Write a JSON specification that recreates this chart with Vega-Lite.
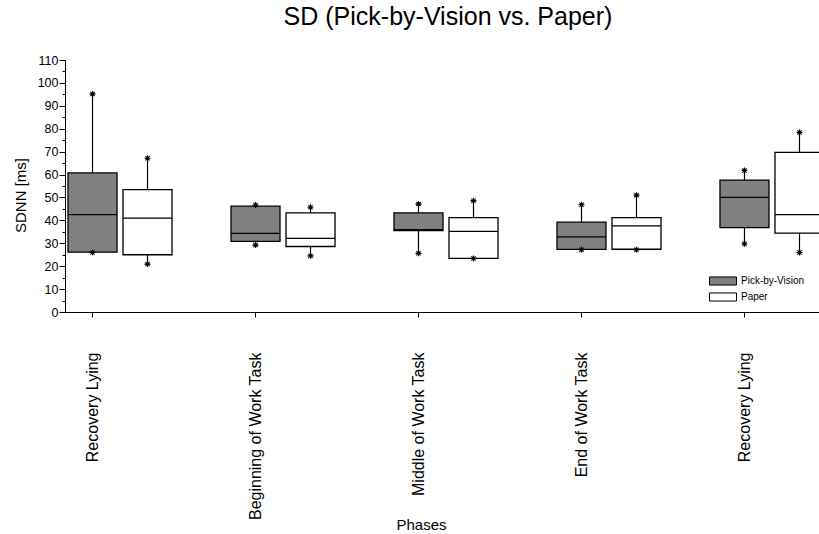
{
  "$schema": "https://vega.github.io/schema/vega-lite/v6.json",
  "width": 754,
  "height": 252,
  "autosize": {"type": "none"},
  "padding": {"left": 65, "top": 60, "right": 0, "bottom": 222},
  "background": "white",
  "config": {
    "font": "Liberation Sans",
    "view": {"stroke": null},
    "axis": {"grid": false, "domainColor": "black", "tickColor": "black", "labelColor": "black", "titleColor": "black", "titleFontWeight": "normal", "domainWidth": 1, "tickWidth": 1}
  },
  "title": {"text": "SD (Pick-by-Vision vs. Paper)", "fontSize": 25, "fontWeight": "normal", "color": "black", "anchor": "middle", "baseline": "alphabetic", "offset": 4, "dx": 6},
  "data": {
    "values": [
      {"phase": "Recovery Lying (1)", "group": "Pick-by-Vision", "min": 26.0, "q1": 26.1, "median": 42.5, "q3": 60.7, "max": 95.2},
      {"phase": "Recovery Lying (1)", "group": "Paper", "min": 20.9, "q1": 25.0, "median": 41.0, "q3": 53.4, "max": 67.1},
      {"phase": "Beginning of Work Task", "group": "Pick-by-Vision", "min": 29.2, "q1": 30.8, "median": 34.3, "q3": 46.2, "max": 46.7},
      {"phase": "Beginning of Work Task", "group": "Paper", "min": 24.5, "q1": 28.6, "median": 32.1, "q3": 43.3, "max": 45.7},
      {"phase": "Middle of Work Task", "group": "Pick-by-Vision", "min": 25.6, "q1": 35.5, "median": 36.0, "q3": 43.3, "max": 47.1},
      {"phase": "Middle of Work Task", "group": "Paper", "min": 23.4, "q1": 23.4, "median": 35.2, "q3": 41.2, "max": 48.6},
      {"phase": "End of Work Task", "group": "Pick-by-Vision", "min": 27.2, "q1": 27.3, "median": 32.8, "q3": 39.2, "max": 46.8},
      {"phase": "End of Work Task", "group": "Paper", "min": 27.2, "q1": 27.4, "median": 37.6, "q3": 41.2, "max": 51.0},
      {"phase": "Recovery Lying (2)", "group": "Pick-by-Vision", "min": 29.8, "q1": 36.8, "median": 50.0, "q3": 57.6, "max": 61.8},
      {"phase": "Recovery Lying (2)", "group": "Paper", "min": 26.0, "q1": 34.4, "median": 42.5, "q3": 69.7, "max": 78.4}
    ]
  },
  "encoding": {
    "x": {
      "field": "phase",
      "type": "nominal",
      "sort": ["Recovery Lying (1)", "Beginning of Work Task", "Middle of Work Task", "End of Work Task", "Recovery Lying (2)"],
      "scale": {"range": [0, 762], "paddingInner": 0.325, "paddingOuter": 0},
      "axis": {
        "bandPosition": 0.25,
        "tickSize": 5,
        "labelAngle": 270,
        "labelAlign": "right",
        "labelBaseline": "middle",
        "labelPadding": 35,
        "labelOffset": -27,
        "labelFontSize": 16,
        "labelExpr": "indexof(datum.value, 'Recovery') === 0 ? 'Recovery Lying' : datum.value",
        "title": "Phases",
        "titleFontSize": 15,
        "titleX": 356,
        "titleY": 217,
        "titleAlign": "center",
        "titleBaseline": "alphabetic",
        "titleAnchor": null
      }
    },
    "xOffset": {
      "field": "group",
      "type": "nominal",
      "sort": ["Pick-by-Vision", "Paper"],
      "scale": {"paddingInner": 0.109, "paddingOuter": 0.0545}
    }
  },
  "layer": [
    {
      "mark": {"type": "rule", "clip": true, "stroke": "black", "strokeWidth": 1.2},
      "encoding": {
        "y": {
          "field": "min",
          "type": "quantitative",
          "scale": {"domain": [0, 110], "nice": false, "zero": true},
          "axis": {"title": "SDNN [ms]", "titleFontSize": 15, "titleX": -45, "titleY": 135, "titleAngle": 270, "titleAlign": "center", "titleBaseline": "middle", "values": [0, 5, 10, 15, 20, 25, 30, 35, 40, 45, 50, 55, 60, 65, 70, 75, 80, 85, 90, 95, 100, 105, 110], "labelExpr": "datum.value % 10 === 0 ? datum.label : ''", "tickSize": {"condition": {"test": "datum.value % 10 === 0", "value": 6}, "value": 3}, "labelPadding": 1, "labelFontSize": 12.5, "labelFlush": false, "labelOverlap": false}
        },
        "y2": {"field": "max"}
      }
    },
    {
      "mark": {"type": "bar", "clip": true, "stroke": "black", "strokeWidth": 1.3},
      "encoding": {
        "y": {
          "field": "q1",
          "type": "quantitative",
          "axis": {"title": "SDNN [ms]", "titleFontSize": 15, "titleX": -45, "titleY": 135, "titleAngle": 270, "titleAlign": "center", "titleBaseline": "middle", "values": [0, 5, 10, 15, 20, 25, 30, 35, 40, 45, 50, 55, 60, 65, 70, 75, 80, 85, 90, 95, 100, 105, 110], "labelExpr": "datum.value % 10 === 0 ? datum.label : ''", "tickSize": {"condition": {"test": "datum.value % 10 === 0", "value": 6}, "value": 3}, "labelPadding": 1, "labelFontSize": 12.5, "labelFlush": false, "labelOverlap": false}
        },
        "y2": {"field": "q3"},
        "fill": {
          "field": "group",
          "type": "nominal",
          "scale": {"domain": ["Pick-by-Vision", "Paper"], "range": ["#808080", "#ffffff"]},
          "legend": {
            "title": null,
            "orient": "none",
            "legendX": 653,
            "legendY": 216,
            "padding": 0,
            "symbolType": "M-3,-0.9H3V0.9H-3Z",
            "symbolSize": 81,
            "symbolStrokeColor": "black",
            "symbolStrokeWidth": 1,
            "symbolOpacity": 1,
            "labelFontSize": 10,
            "labelColor": "black",
            "labelOffset": 13,
            "rowPadding": 2
          }
        }
      }
    },
    {
      "mark": {"type": "bar", "clip": true, "stroke": "black", "strokeWidth": 1.3, "fill": "transparent"},
      "encoding": {
        "y": {
          "field": "median",
          "type": "quantitative",
          "axis": {"title": "SDNN [ms]", "titleFontSize": 15, "titleX": -45, "titleY": 135, "titleAngle": 270, "titleAlign": "center", "titleBaseline": "middle", "values": [0, 5, 10, 15, 20, 25, 30, 35, 40, 45, 50, 55, 60, 65, 70, 75, 80, 85, 90, 95, 100, 105, 110], "labelExpr": "datum.value % 10 === 0 ? datum.label : ''", "tickSize": {"condition": {"test": "datum.value % 10 === 0", "value": 6}, "value": 3}, "labelPadding": 1, "labelFontSize": 12.5, "labelFlush": false, "labelOverlap": false}
        },
        "y2": {"field": "median"}
      }
    },
    {
      "mark": {"type": "point", "clip": true, "shape": "M-1,0H1M0,-1V1M-0.7,-0.7L0.7,0.7M-0.7,0.7L0.7,-0.7", "filled": false, "stroke": "black", "strokeWidth": 1.1, "size": 36, "opacity": 1},
      "encoding": {
        "y": {
          "field": "max",
          "type": "quantitative",
          "axis": {"title": "SDNN [ms]", "titleFontSize": 15, "titleX": -45, "titleY": 135, "titleAngle": 270, "titleAlign": "center", "titleBaseline": "middle", "values": [0, 5, 10, 15, 20, 25, 30, 35, 40, 45, 50, 55, 60, 65, 70, 75, 80, 85, 90, 95, 100, 105, 110], "labelExpr": "datum.value % 10 === 0 ? datum.label : ''", "tickSize": {"condition": {"test": "datum.value % 10 === 0", "value": 6}, "value": 3}, "labelPadding": 1, "labelFontSize": 12.5, "labelFlush": false, "labelOverlap": false}
        }
      }
    },
    {
      "mark": {"type": "point", "clip": true, "shape": "M-1,0H1M0,-1V1M-0.7,-0.7L0.7,0.7M-0.7,0.7L0.7,-0.7", "filled": false, "stroke": "black", "strokeWidth": 1.1, "size": 36, "opacity": 1},
      "encoding": {
        "y": {
          "field": "min",
          "type": "quantitative",
          "axis": {"title": "SDNN [ms]", "titleFontSize": 15, "titleX": -45, "titleY": 135, "titleAngle": 270, "titleAlign": "center", "titleBaseline": "middle", "values": [0, 5, 10, 15, 20, 25, 30, 35, 40, 45, 50, 55, 60, 65, 70, 75, 80, 85, 90, 95, 100, 105, 110], "labelExpr": "datum.value % 10 === 0 ? datum.label : ''", "tickSize": {"condition": {"test": "datum.value % 10 === 0", "value": 6}, "value": 3}, "labelPadding": 1, "labelFontSize": 12.5, "labelFlush": false, "labelOverlap": false}
        }
      }
    }
  ]
}
